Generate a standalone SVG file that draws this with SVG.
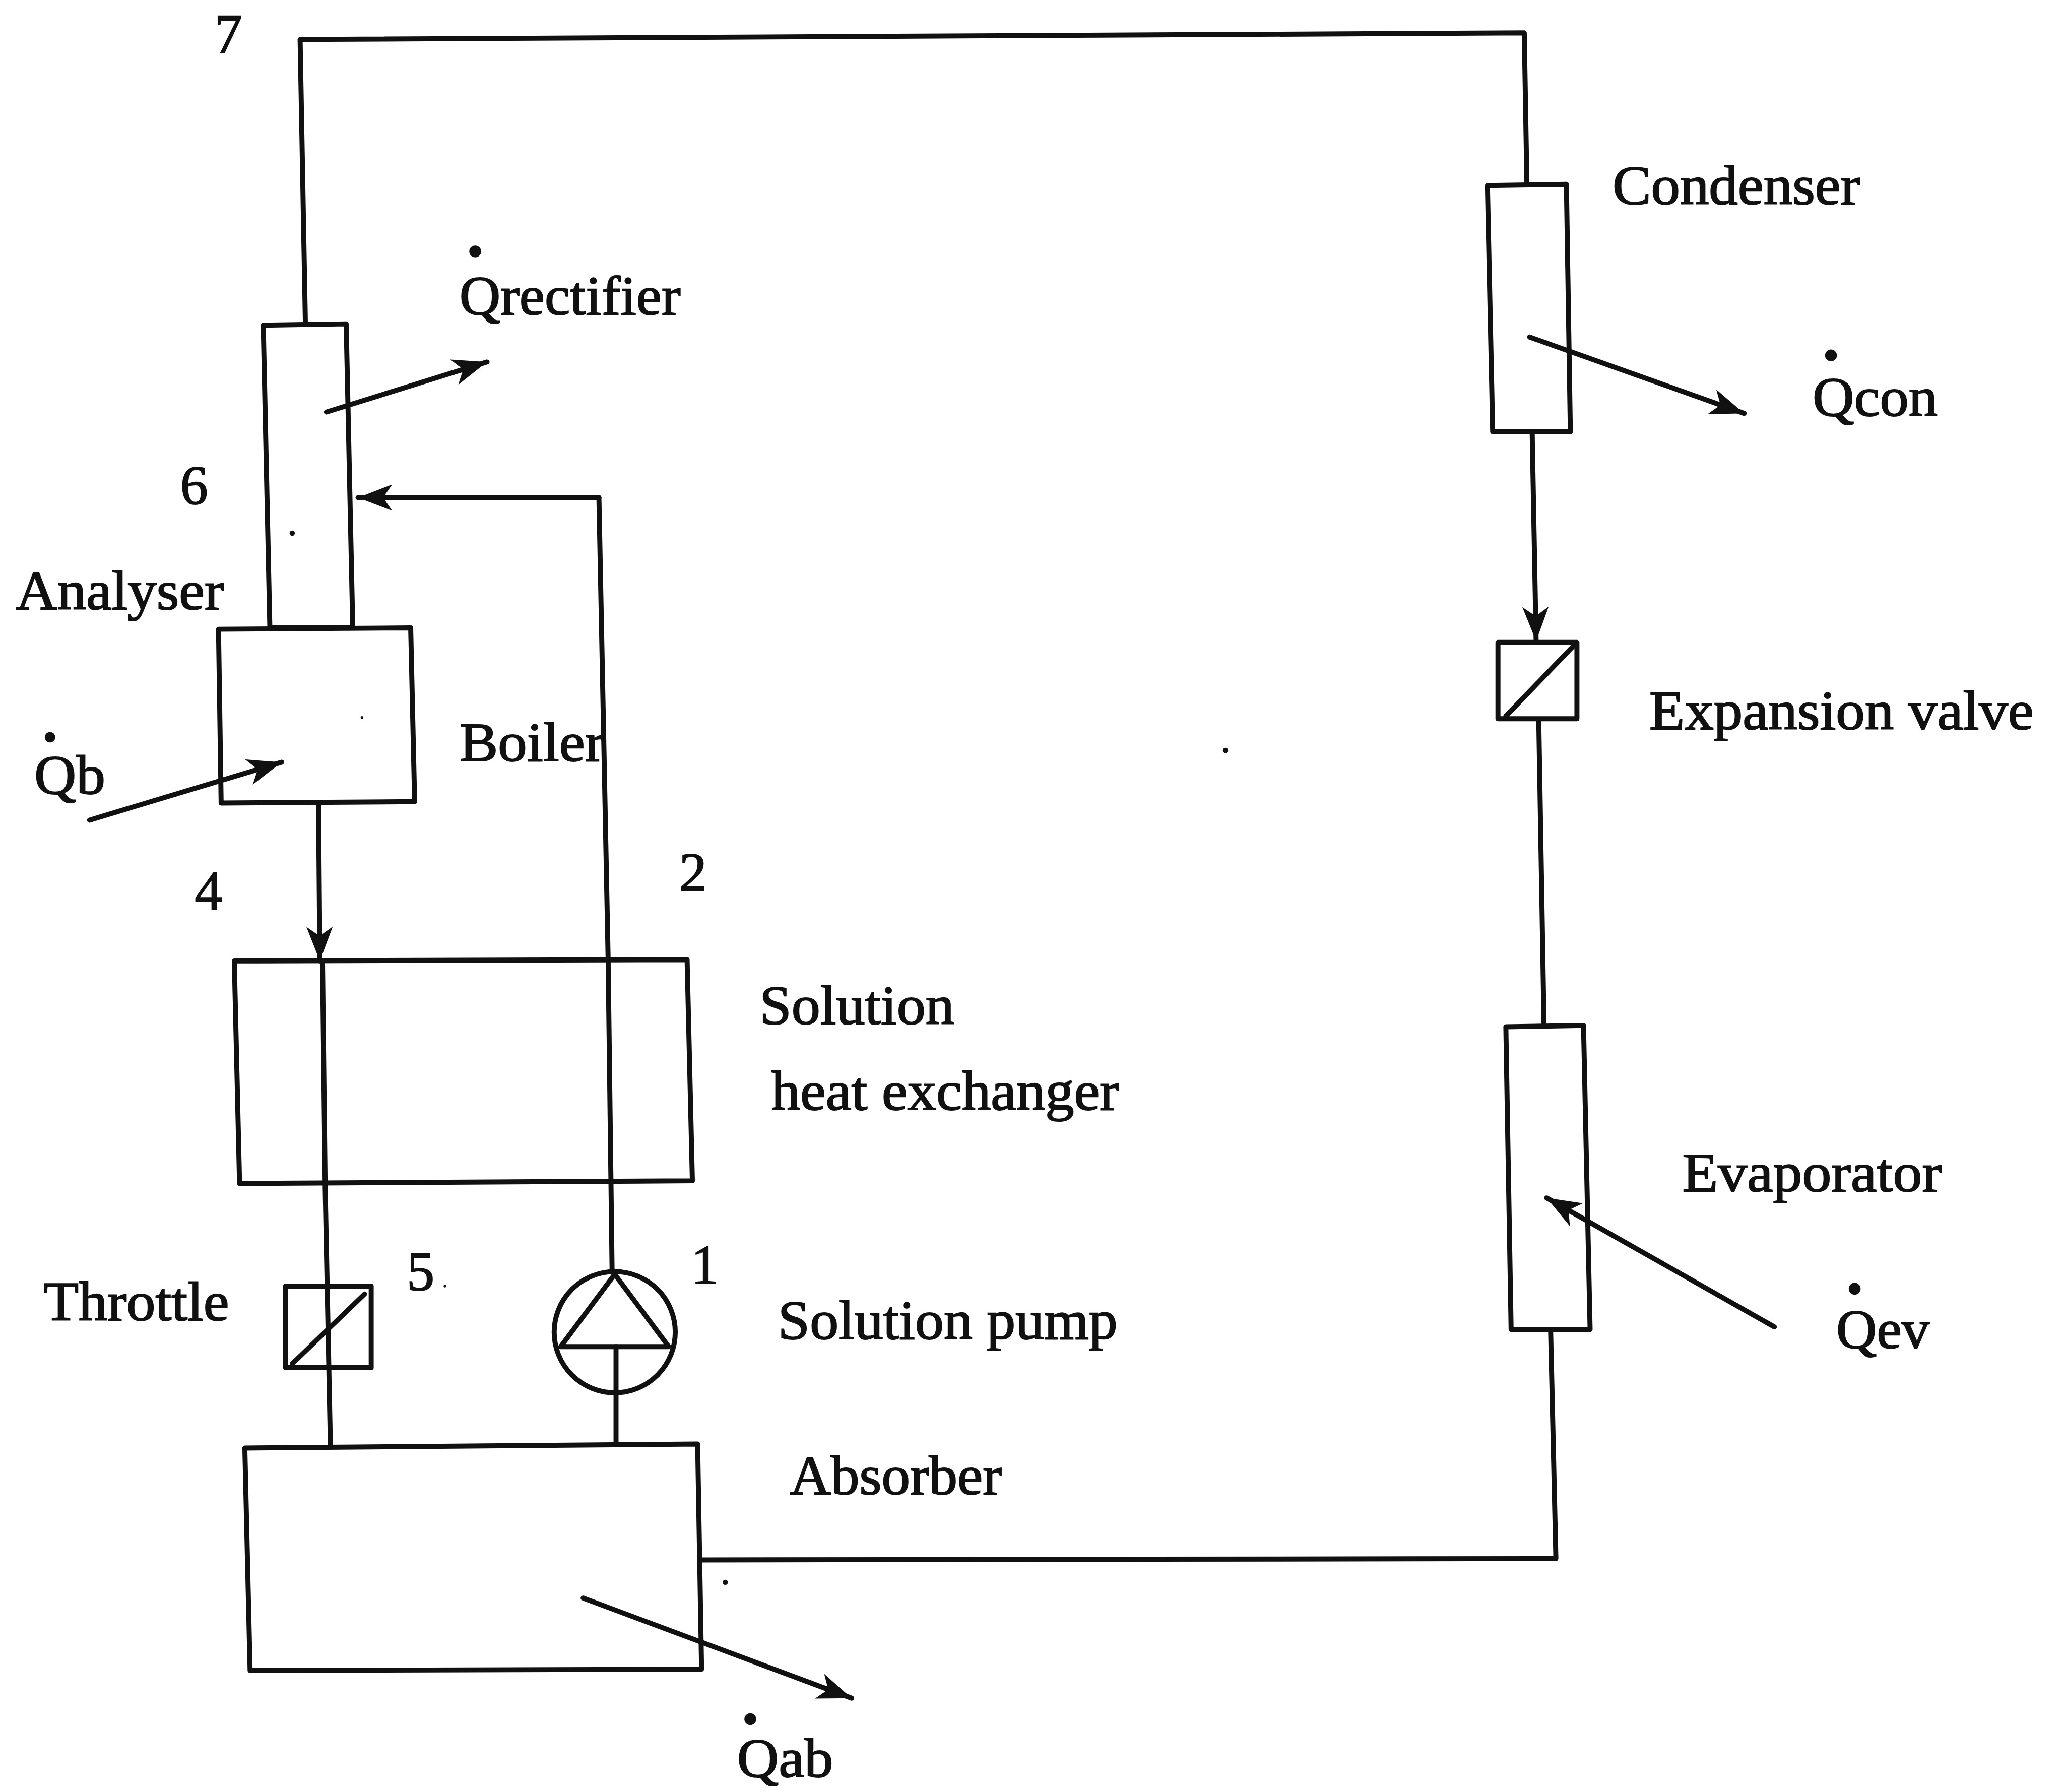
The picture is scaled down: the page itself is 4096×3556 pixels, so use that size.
<svg xmlns="http://www.w3.org/2000/svg" width="4096" height="3556" viewBox="0 0 4096 3556">
<style>
.s{fill:none;stroke:#111;stroke-width:3.8;stroke-linejoin:round;stroke-linecap:round}
.a{fill:none;stroke:#111;stroke-width:3.8;stroke-linecap:round}
text{font-family:"Liberation Serif","Times New Roman",serif;font-size:42px;fill:#111;stroke:#111;stroke-width:.8}
.d{fill:#111;stroke:none}
</style>
<defs>
<marker id="ah" markerUnits="userSpaceOnUse" markerWidth="30" markerHeight="22" refX="26" refY="10" orient="auto"><path d="M0 0 L26 10 L0 20 L7 10 Z" fill="#111"/></marker>
</defs>
<rect width="4096" height="3556" fill="#fff"/>
<g transform="scale(2.6122)">
<g id="connectors">
<path class="s" d="M232 245 L228 30 L1158 25 L1160 140"/>
<path class="a" marker-end="url(#ah)" d="M455 378 L272 378"/>
<path class="s" d="M455 378 L462 729"/>
<path class="a" marker-end="url(#ah)" d="M242 610 L243 730"/>
<path class="s" d="M245 730 L247 900 L251 1098"/>
<path class="s" d="M462 729 L465 965"/>
<path class="s" d="M468 1023 L468 1097"/>
<path class="a" marker-end="url(#ah)" d="M1164 328 L1167 487"/>
<path class="s" d="M1169 547 L1173 779"/>
<path class="s" d="M1178 1010 L1182 1184 L532 1185"/>
<path class="a" marker-end="url(#ah)" d="M248 313 L370 275"/>
<path class="a" marker-end="url(#ah)" d="M68 623 L214 579"/>
<path class="a" marker-end="url(#ah)" d="M1162 256 L1325 314"/>
<path class="a" marker-end="url(#ah)" d="M1348 1008 L1175 910"/>
<path class="a" marker-end="url(#ah)" d="M443 1214 L647 1290"/>
</g>
<g id="analyser"><polygon class="s" points="200,247 263,246 268,477 205,477"/><text x="12" y="463" textLength="158" lengthAdjust="spacingAndGlyphs">Analyser</text></g>
<g id="boiler"><polygon class="s" points="166,478 312,477 315,609 168,610"/><text x="349" y="578" textLength="110" lengthAdjust="spacingAndGlyphs">Boiler</text></g>
<g id="solution-heat-exchanger"><polygon class="s" points="178,730 522,729 526,897 182,899"/><text x="577" y="778" textLength="148" lengthAdjust="spacingAndGlyphs">Solution</text><text x="586" y="843" textLength="264" lengthAdjust="spacingAndGlyphs">heat exchanger</text></g>
<g id="throttle"><rect class="s" x="217" y="977" width="65" height="62"/><path class="s" d="M222 1036 L277 983"/><text x="33" y="1003" textLength="141" lengthAdjust="spacingAndGlyphs">Throttle</text></g>
<g id="solution-pump"><ellipse class="s" cx="467" cy="1012" rx="46" ry="46"/><path class="s" d="M467 968 L426 1023 L508 1023 Z"/><text x="591" y="1017" textLength="258" lengthAdjust="spacingAndGlyphs">Solution pump</text></g>
<g id="absorber"><polygon class="s" points="186,1100 530,1097 533,1268 190,1269"/><text x="600" y="1135" textLength="161" lengthAdjust="spacingAndGlyphs">Absorber</text></g>
<g id="condenser"><polygon class="s" points="1130,141 1190,140 1193,328 1134,328"/><text x="1225" y="155" textLength="188" lengthAdjust="spacingAndGlyphs">Condenser</text></g>
<g id="expansion-valve"><rect class="s" x="1138" y="488" width="60" height="58"/><path class="s" d="M1144 544 L1195 491"/><text x="1253" y="554" textLength="292" lengthAdjust="spacingAndGlyphs">Expansion valve</text></g>
<g id="evaporator"><polygon class="s" points="1144,780 1203,779 1208,1010 1148,1010"/><text x="1278" y="905" textLength="197" lengthAdjust="spacingAndGlyphs">Evaporator</text></g>
<g id="labels">
<text x="163" y="40">7</text><text x="137" y="383">6</text><text x="148" y="691">4</text><text x="516" y="677">2</text><text x="309" y="980">5</text><text x="525" y="975">1</text>
<text x="349" y="239" textLength="168" lengthAdjust="spacingAndGlyphs">Qrectifier</text>
<circle class="d" cx="361" cy="191" r="4.5"/>
<text x="26" y="603" textLength="54" lengthAdjust="spacingAndGlyphs">Qb</text>
<circle class="d" cx="38" cy="560" r="4"/>
<text x="1377" y="316" textLength="95" lengthAdjust="spacingAndGlyphs">Qcon</text>
<circle class="d" cx="1391" cy="270" r="4.5"/>
<text x="1395" y="1024" textLength="71" lengthAdjust="spacingAndGlyphs">Qev</text>
<circle class="d" cx="1409" cy="979" r="4.5"/>
<text x="560" y="1350" textLength="73" lengthAdjust="spacingAndGlyphs">Qab</text>
<circle class="d" cx="570" cy="1306" r="4.5"/>
<circle class="d" cx="222" cy="405" r="2"/><circle class="d" cx="931" cy="570" r="2"/><circle class="d" cx="551" cy="1202" r="2"/><circle class="d" cx="275" cy="545" r="1"/><circle class="d" cx="338" cy="977" r="1"/>
</g>
</g>
</svg>
